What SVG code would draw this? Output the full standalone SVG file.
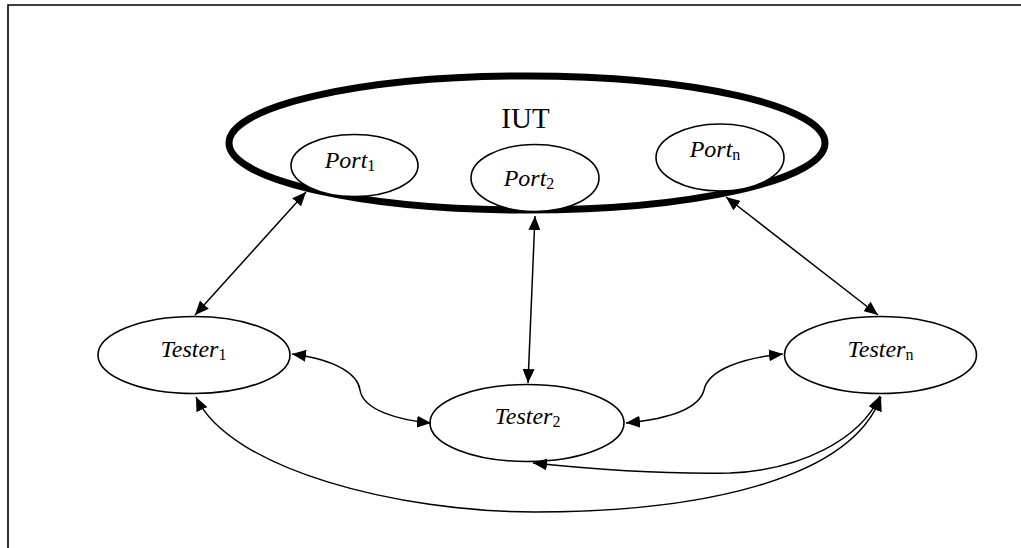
<svg xmlns="http://www.w3.org/2000/svg" width="1021" height="548" viewBox="0 0 1021 548">
<style>
.frame{fill:none;stroke:#000;stroke-width:1.6}
.node{fill:#fff;stroke:#000;stroke-width:1.6}
.iut{fill:none;stroke:#000;stroke-width:7}
.lbl{font-family:"Liberation Serif","Times New Roman",serif;font-size:24px;font-style:italic;fill:#000}
.sub{font-style:normal;font-size:16px}
.title{font-family:"Liberation Serif","Times New Roman",serif;font-size:29px;fill:#000}
.conn{fill:none;stroke:#000;stroke-width:1.5;marker-start:url(#ah);marker-end:url(#ah)}
</style>
<defs>
<marker id="ah" markerUnits="userSpaceOnUse" markerWidth="16" markerHeight="12" refX="14" refY="6" orient="auto-start-reverse">
<path d="M0,0 L14,6 L0,12 Z" fill="#000"/>
</marker>
</defs>
<rect width="1021" height="548" fill="#fff"/>
<path class="frame" d="M8,548 L8,5 L1021,5"/>

<g id="iut">
<ellipse class="iut" cx="527" cy="143" rx="298" ry="67"/>
<text class="title" x="525.5" y="127.5" text-anchor="middle">IUT</text>
</g>
<g id="port1">
<ellipse class="node" cx="354.5" cy="165.5" rx="63.5" ry="31"/>
<text class="lbl" x="350" y="167.5" text-anchor="middle">Port<tspan class="sub" dy="3">1</tspan></text>
</g>
<g id="port2">
<ellipse class="node" cx="535" cy="178" rx="64" ry="33.5"/>
<text class="lbl" x="529" y="186" text-anchor="middle">Port<tspan class="sub" dy="3">2</tspan></text>
</g>
<g id="portn">
<ellipse class="node" cx="720" cy="157.5" rx="64" ry="33.5"/>
<text class="lbl" x="715" y="157" text-anchor="middle">Port<tspan class="sub" dy="3">n</tspan></text>
</g>
<g id="tester1">
<ellipse class="node" cx="194" cy="355" rx="96" ry="38.5"/>
<text class="lbl" x="193.5" y="356.5" text-anchor="middle">Tester<tspan class="sub" dy="3">1</tspan></text>
</g>
<g id="tester2">
<ellipse class="node" cx="527" cy="423" rx="97" ry="38.5"/>
<text class="lbl" x="527.5" y="423.5" text-anchor="middle">Tester<tspan class="sub" dy="3">2</tspan></text>
</g>
<g id="testern">
<ellipse class="node" cx="880.5" cy="355" rx="96" ry="38.5"/>
<text class="lbl" x="880.5" y="356.5" text-anchor="middle">Tester<tspan class="sub" dy="3">n</tspan></text>
</g>

<g id="connectors">
<path class="conn" d="M306,192 L195,315"/>
<path class="conn" d="M535,216 L528,383"/>
<path class="conn" d="M726,197 L878,315"/>
<path class="conn" d="M292,354 C338,360 358,375 360,390 C363,410 398,420 431,423"/>
<path class="conn" d="M626,423 C678,418 700,405 704,390 C708,370 742,358 783,354"/>
<path class="conn" d="M533,463 C620,472 680,474 730,473 C800,470 860,440 880,396"/>
<path class="conn" d="M196,397 C230,470 400,512 534,512 C700,512 850,480 881,397"/>
</g>
</svg>
